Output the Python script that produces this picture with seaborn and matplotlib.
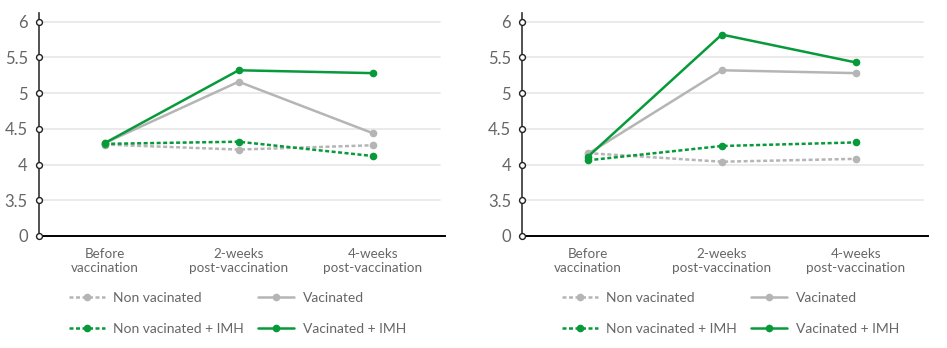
import matplotlib
matplotlib.use("Agg")
import matplotlib.pyplot as plt
import seaborn as sns
import numpy as np
from matplotlib.lines import Line2D

# ---- data ----
categories = ["Before\nvaccination", "2-weeks\npost-vaccination", "4-weeks\npost-vaccination"]
series_names = ["Non vacinated", "Non vacinated + IMH", "Vacinated", "Vacinated + IMH"]

left_non_vac = [4.28, 4.21, 4.27]
left_non_vac_imh = [4.29, 4.32, 4.12]
left_vac = [4.30, 5.16, 4.44]
left_vac_imh = [4.30, 5.32, 5.28]

right_non_vac = [4.16, 4.04, 4.08]
right_non_vac_imh = [4.06, 4.26, 4.31]
right_vac = [4.15, 5.32, 5.28]
right_vac_imh = [4.11, 5.82, 5.43]

y_ticks = [3.0, 3.5, 4.0, 4.5, 5.0, 5.5, 6.0]
y_tick_labels = ["0", "3.5", "4", "4.5", "5", "5.5", "6"]

GREY = "#b5b5b5"
GREEN = "#079a3a"
TXT = "#666666"

sns.set_style("white")
plt.rcParams["font.family"] = ["Lato", "DejaVu Sans"]

fig = plt.figure(figsize=(9.47, 3.48), dpi=100)
ax_l = fig.add_axes([39/947, 1-236/348, (445-39)/947, (236-12.7)/348])
ax_r = fig.add_axes([522.3/947, 1-236/348, (928-522.3)/947, (236-12.7)/348])

styles = {
    "Non vacinated": dict(color=GREY, linestyle=(0, (1.6, 1.0)), lw=1.8),
    "Non vacinated + IMH": dict(color=GREEN, linestyle=(0, (1.6, 1.0)), lw=1.8),
    "Vacinated": dict(color=GREY, linestyle="-", lw=1.8),
    "Vacinated + IMH": dict(color=GREEN, linestyle="-", lw=1.8),
}

def draw(ax, data, legend_x):
    x = np.arange(len(categories))
    for name in series_names:
        st = styles[name]
        sns.lineplot(x=x, y=data[name], ax=ax, color=st["color"], linewidth=st["lw"],
                     linestyle=st["linestyle"], marker="o", markersize=5.5,
                     markeredgewidth=0, zorder=3)
    ax.set_xlim(-0.49, 2.54)
    ax.set_ylim(3.0, 6.126)
    ax.set_yticks(y_ticks)
    ax.set_yticklabels(y_tick_labels)
    ax.set_xticks(x)
    ax.set_xticklabels(categories)
    for t in ax.get_xticklabels():
        t.set_linespacing(1.15)
    for yv in y_ticks[1:]:
        ax.axhline(yv, xmin=0, xmax=0.988, color="#e6e6e6", lw=1.2, zorder=0)
    for s in ["top", "right"]:
        ax.spines[s].set_visible(False)
    ax.spines["left"].set_color("#333333")
    ax.spines["left"].set_linewidth(1.2)
    ax.spines["bottom"].set_color("#000000")
    ax.spines["bottom"].set_linewidth(1.4)
    ax.tick_params(axis="y", length=0, pad=8, labelsize=12, labelcolor=TXT)
    ax.tick_params(axis="x", length=0, pad=9, labelsize=9.7, labelcolor=TXT)
    ax.scatter([0]*len(y_ticks), y_ticks, transform=ax.get_yaxis_transform(),
               s=18, facecolor="white", edgecolor="#222222", linewidth=1.0,
               zorder=5, clip_on=False)
    handles = [Line2D([0], [0], color=styles[n]["color"], linestyle=styles[n]["linestyle"],
                      lw=styles[n]["lw"], marker="o", markersize=5.5, markeredgewidth=0)
               for n in series_names]
    fig.legend(handles, series_names, loc="upper left", bbox_to_anchor=(legend_x, 1-291.5/348),
               ncol=2, frameon=False, fontsize=10, labelcolor=TXT, handlelength=2.6,
               handletextpad=0.6, columnspacing=1.02, labelspacing=1.38, borderpad=0,
               borderaxespad=0)

draw(ax_l, {"Non vacinated": left_non_vac, "Non vacinated + IMH": left_non_vac_imh,
            "Vacinated": left_vac, "Vacinated + IMH": left_vac_imh}, 69/947)
draw(ax_r, {"Non vacinated": right_non_vac, "Non vacinated + IMH": right_non_vac_imh,
            "Vacinated": right_vac, "Vacinated + IMH": right_vac_imh}, 562/947)

fig.savefig("out.png", dpi=100)
